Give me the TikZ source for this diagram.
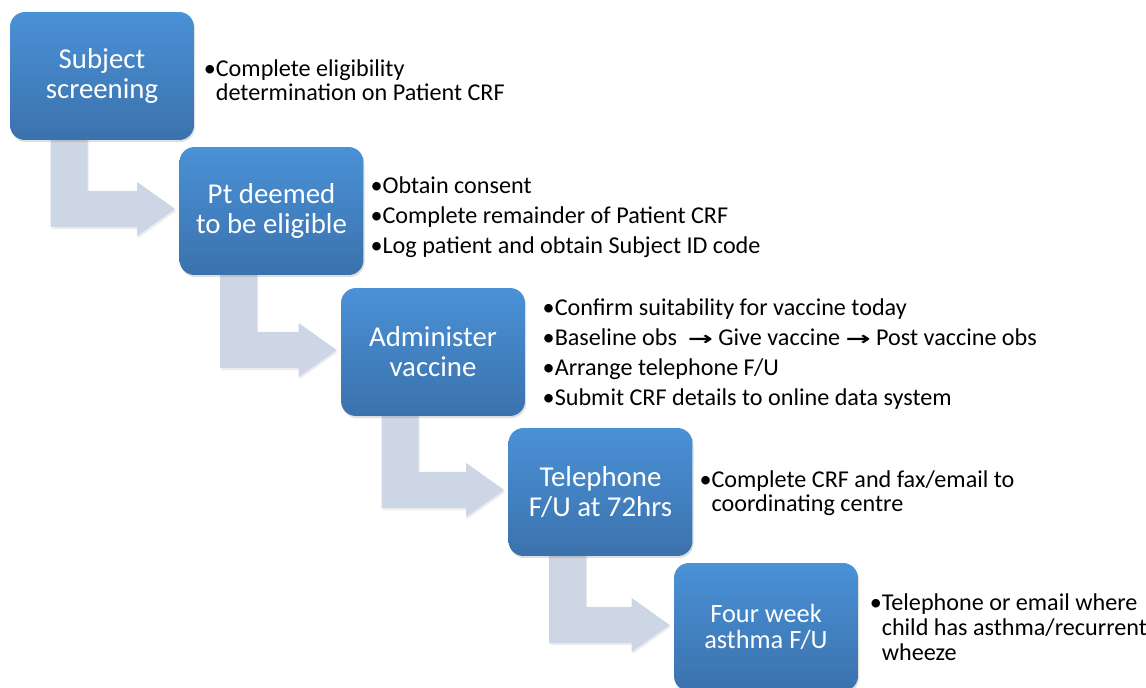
\documentclass[tikz,border=0pt]{standalone}
\usepackage{fontspec}
\setmainfont{Carlito}
\newfontfamily\arrowfont{DejaVu Sans}
\usetikzlibrary{positioning,calc,shadows,backgrounds}
\definecolor{boxtop}{RGB}{74,145,214}
\definecolor{boxbot}{RGB}{59,114,173}
\definecolor{bendfill}{RGB}{205,214,228}
\newcommand{\thento}{\scalebox{1.55}[1]{\arrowfont\bfseries\fontsize{11}{11}\selectfont →}}

\begin{document}
\begin{tikzpicture}[x=0.02cm,y=-0.02cm,
  stage/.style={rounded corners=0.3cm,minimum width=3.68cm,minimum height=2.56cm,
    top color=boxtop,bottom color=boxbot,text=white,align=center,
    font=\fontsize{16.4}{17}\selectfont,
    drop shadow={opacity=0.25,shadow xshift=0.6pt,shadow yshift=-1.2pt}},
  notes/.style={inner sep=0pt,align=left,font=\fontsize{13.75}{13.7}\selectfont},
  bentarrow/.style={fill=bendfill,drop shadow={opacity=0.15,shadow xshift=0.6pt,shadow yshift=-1.2pt}}]
  \useasboundingbox (0,0) rectangle (1146,688);
  % the five stages
  \node[stage] (sub) at (102,76) {Subject\\screening};
  \node[stage] (elig) at (271.5,211) {Pt deemed\\to be eligible};
  \node[stage] (adm) at (433,352) {Administer\\vaccine};
  \node[stage] (tel) at (600.5,492) {Telephone\\F/U at 72hrs};
  \node[stage,font=\fontsize{15}{14.6}\selectfont] (four) at (766,627) {Four week\\asthma F/U};
  % what is done at each stage
  \node[notes,right=5.2pt of sub,yshift=-2.3pt] (subnote)
    {\textbullet Complete eligibility\\\phantom{\textbullet}determination on Patient CRF};
  \node[notes,right=3.6pt of elig,yshift=-3.4pt] (elignote)
    {\textbullet Obtain consent\\[3.3pt]\textbullet Complete remainder of Patient CRF\\[3.3pt]\textbullet Log patient and obtain Subject ID code};
  \node[notes,right=9.7pt of adm,yshift=-1.2pt] (admnote)
    {\textbullet Confirm suitability for vaccine today\\[3.4pt]%
     \textbullet Baseline obs~ \thento{} Give vaccine \thento{} Post vaccine obs\\[3.4pt]%
     \textbullet Arrange telephone F/U\\[3.4pt]\textbullet Submit CRF details to online data system};
  \node[notes,right=3.6pt of tel,yshift=-0.6pt] (telnote)
    {\textbullet Complete CRF and fax/email to\\\phantom{\textbullet}coordinating centre};
  \node[notes,right=6.3pt of four,font=\fontsize{13.75}{14.3}\selectfont] (fournote)
    {\textbullet Telephone or email where\\\phantom{\textbullet}child has asthma/recurrent\\\phantom{\textbullet}wheeze};
  % bent arrows between stages
  \begin{scope}[on background layer]
    \foreach \a/\b in {sub/elig,elig/adm,adm/tel,tel/four}
      \fill[bentarrow] ($(\a.south west)+(41,-6)$) |- ($(\b.west)+(-42,16)$) -- ++(0,9)
        -- ($(\b.west)+(-4,-2)$) -- ($(\b.west)+(-42,-29)$) -- ++(0,9)
        -| ($(\a.south west)+(78,-6)$) -- cycle;
  \end{scope}
\end{tikzpicture}
\end{document}
